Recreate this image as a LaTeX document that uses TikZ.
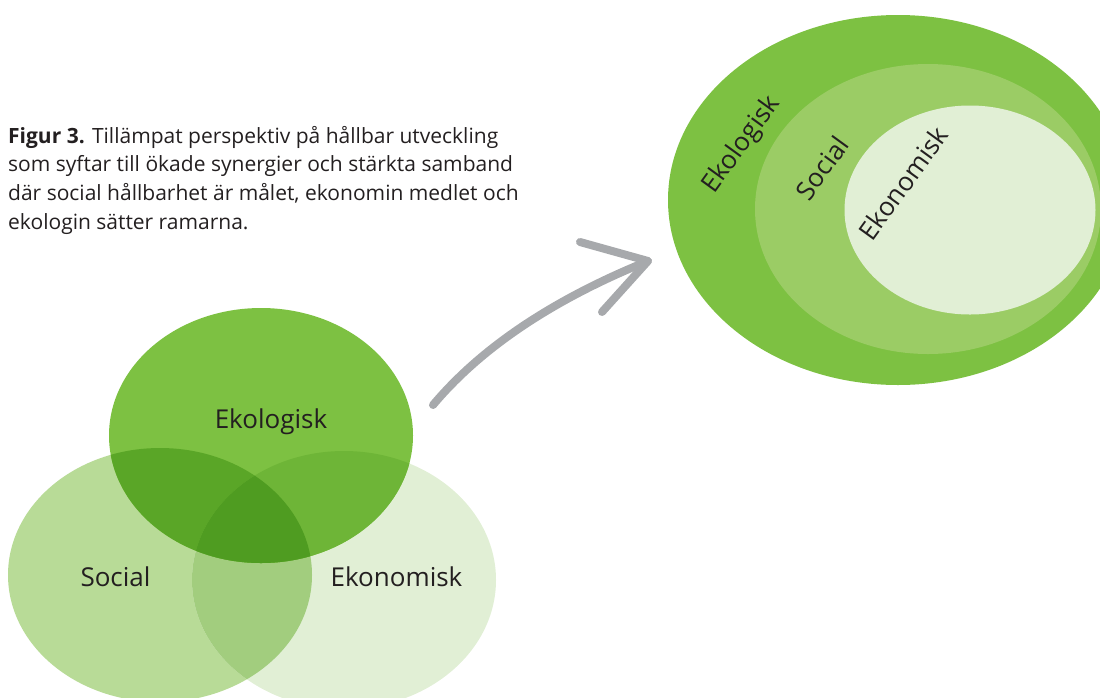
\documentclass[tikz,border=0pt]{standalone}
\usepackage{fontspec}
\setmainfont{Open Sans}
\begin{document}
\begin{tikzpicture}[x=1pt,y=-1pt,
  lbl/.style={text=txtc,inner sep=0pt,font=\fontsize{26}{30}\selectfont},
  rlbl/.style={lbl,rotate=54,anchor=center}]
\definecolor{txtc}{HTML}{231F20}
\definecolor{ekoc}{HTML}{7DC142}
\definecolor{socc}{HTML}{B8DB97}
\definecolor{ekonc}{HTML}{E1EFD5}
\definecolor{ekosoc}{HTML}{5AA627}
\definecolor{ekoekon}{HTML}{6EB537}
\definecolor{socekon}{HTML}{A2CD7E}
\definecolor{allc}{HTML}{4F9C21}
\definecolor{midc}{HTML}{9BCC65}
\definecolor{arrc}{HTML}{A7A9AC}
\useasboundingbox (0,0) rectangle (1100,697);
\clip (0,0) rectangle (1100,697);
% Venn
\def\ekoE{(261,435.5) ellipse [x radius=152,y radius=127.5]}
\def\socE{(160,575) ellipse [x radius=152,y radius=127]}
\def\ekonE{(344,580) ellipse [x radius=152,y radius=129]}
\fill[socc] \socE;
\fill[ekonc] \ekonE;
\fill[ekoc] \ekoE;
\begin{scope}\clip \socE; \fill[socekon] \ekonE; \end{scope}
\begin{scope}\clip \ekoE; \fill[ekosoc] \socE; \end{scope}
\begin{scope}\clip \ekoE; \fill[ekoekon] \ekonE; \end{scope}
\begin{scope}\clip \ekoE; \clip \socE; \fill[allc] \ekonE; \end{scope}
\node[lbl,anchor=base] (veko) at (271,428) {Ekologisk};
\node[lbl,anchor=base] (vsoc) at (115.5,586) {Social};
\node[lbl,anchor=base] (vekon) at (396.5,586) {Ekonomisk};
% nested
\fill[ekoc] (898,200) ellipse [x radius=230,y radius=185];
\fill[midc] (928,209) ellipse [x radius=173,y radius=145];
\fill[ekonc] (970,210) ellipse [x radius=125.5,y radius=104.5];
\node[rlbl] (neko) at (742,145) {Ekologisk};
\node[rlbl] (nsoc) at (822,168) {Social};
\node[rlbl] (nekon) at (903,183) {Ekonomisk};
% arrow
\coordinate (arrS) at (433,405);
\coordinate (arrE) at (648,261);
\coordinate (arrA) at (580,242);
\coordinate (arrB) at (602,312);
\draw[arrc,line width=8pt,line cap=round] (arrS) .. controls (481.3,347.5) and (553,299.5) .. (arrE);
\draw[arrc,line width=8pt,line cap=round,line join=round] (arrA) -- (arrE) -- (arrB);
% caption
\node[anchor=base west,align=left,inner sep=0pt,text=txtc,font=\fontsize{21}{28.7}\selectfont] (cap) at (8,229.1)
 {\textbf{Figur 3.} Tillämpat perspektiv på hållbar utveckling\\
 som syftar till ökade synergier och stärkta samband\\
 där social hållbarhet är målet, ekonomin medlet och\\
 ekologin sätter ramarna.};
\end{tikzpicture}
\end{document}
